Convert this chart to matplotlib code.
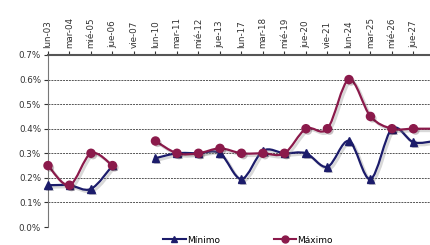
import matplotlib
matplotlib.use("Agg")
import matplotlib.pyplot as plt
import matplotlib.patheffects as pe
from matplotlib.path import Path
from matplotlib.patches import PathPatch
from matplotlib.lines import Line2D
from matplotlib.ticker import FuncFormatter
import numpy as np

dates = ["lun-03", "mar-04", "mié-05", "jue-06", "vie-07", "lun-10", "mar-11",
         "mié-12", "jue-13", "lun-17", "mar-18", "mié-19", "jue-20", "vie-21",
         "lun-24", "mar-25", "mié-26", "jue-27", ""]
minimo = [0.17, 0.17, 0.155, 0.25, np.nan, 0.28, 0.30, 0.30, 0.30, 0.195, 0.31,
          0.30, 0.30, 0.245, 0.35, 0.195, 0.40, 0.345, 0.35]
maximo = [0.25, 0.17, 0.30, 0.25, np.nan, 0.35, 0.30, 0.30, 0.32, 0.30, 0.30,
          0.30, 0.40, 0.40, 0.60, 0.45, 0.40, 0.40, 0.40]

NAVY = "#1c1c6b"
MAROON = "#8b1a4b"


def smooth_path(x, y):
    # catmull-rom style bezier through each contiguous run of points
    verts, codes = [], []
    n = len(x)
    for i in range(n):
        if i == 0:
            verts.append((x[0], y[0]))
            codes.append(Path.MOVETO)
            continue
        p0 = np.array([x[max(i - 2, 0)], y[max(i - 2, 0)]])
        p1 = np.array([x[i - 1], y[i - 1]])
        p2 = np.array([x[i], y[i]])
        p3 = np.array([x[min(i + 1, n - 1)], y[min(i + 1, n - 1)]])
        c1 = p1 + (p2 - p0) / 6.0
        c2 = p2 - (p3 - p1) / 6.0
        verts += [tuple(c1), tuple(c2), tuple(p2)]
        codes += [Path.CURVE4] * 3
    return Path(verts, codes)


def draw_series(ax, values, color, marker, msize):
    vals = np.array(values, dtype=float)
    xs = np.arange(len(vals))
    ok = ~np.isnan(vals)
    # split into contiguous runs
    runs, cur = [], []
    for i in xs:
        if ok[i]:
            cur.append(i)
        elif cur:
            runs.append(cur)
            cur = []
    if cur:
        runs.append(cur)
    shadow = [pe.SimpleLineShadow(offset=(1.5, -1.5), shadow_color="gray", alpha=0.3, linewidth=2),
              pe.Normal()]
    for r in runs:
        p = smooth_path(xs[r], vals[r])
        ax.add_patch(PathPatch(p, facecolor="none", edgecolor=color, lw=1.6,
                               path_effects=shadow, zorder=3, clip_on=True))
    ax.plot(xs[ok], vals[ok], ls="none", marker=marker, ms=msize, color=color,
            zorder=4, clip_on=False,
            path_effects=[pe.SimplePatchShadow(offset=(1.5, -1.5), alpha=0.25), pe.Normal()])


fig = plt.figure(figsize=(4.3, 2.45), dpi=100)
ax = fig.add_axes([48 / 430, 1 - 227 / 245, 1 - 48 / 430, (227 - 55) / 245])

draw_series(ax, minimo, NAVY, "^", 5.5)
draw_series(ax, maximo, MAROON, "o", 5.8)

ax.set_xlim(0, 17.77)
ax.set_ylim(0, 0.7)
ax.set_yticks(np.arange(0, 0.71, 0.1))
ax.yaxis.set_major_formatter(FuncFormatter(lambda v, _: f"{v:.1f}%"))
ax.set_xticks(range(len(dates) - 1))
ax.set_xticklabels(dates[:-1], rotation=90)
ax.xaxis.tick_top()
ax.tick_params(axis="x", length=3, width=0.8, color="#333333", pad=2, labelsize=6.3, labelcolor="#333333")
ax.tick_params(axis="y", length=3, width=0.8, color="#333333", pad=2, labelsize=6.3, labelcolor="#333333")
ax.grid(axis="y", ls=(0, (2, 1)), color="#555555", lw=0.7)
for s in ["right", "bottom"]:
    ax.spines[s].set_visible(False)
ax.spines["top"].set_color("#555555")
ax.spines["top"].set_linewidth(1.5)
ax.spines["left"].set_color("#777777")

handles = [Line2D([], [], color=NAVY, marker="^", ms=5, lw=1.5),
           Line2D([], [], color=MAROON, marker="o", ms=5, lw=1.5)]
fig.legend(handles, ["Mínimo", "Máximo"], loc="center", bbox_to_anchor=(248 / 430, 1 - 240 / 245),
           ncol=2, frameon=False, fontsize=6.5, handlelength=2.5, handletextpad=0.1,
           columnspacing=6)

fig.savefig("out.png", dpi=100)
